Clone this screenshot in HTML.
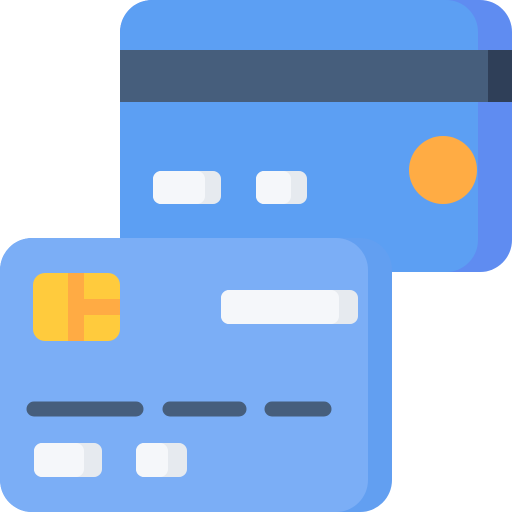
<!DOCTYPE html>
<html><head><style>html,body{margin:0;padding:0;background:#fff}</style></head>
<body>
<svg width="512" height="512" viewBox="0 0 512 512" xmlns="http://www.w3.org/2000/svg">
<defs>
<clipPath id="bc"><rect x="120" y="0" width="392" height="272" rx="32"/></clipPath>
<clipPath id="fc"><rect x="0" y="238" width="392" height="274" rx="32"/></clipPath>
</defs>
<g clip-path="url(#bc)">
<rect x="120" y="0" width="392" height="272" fill="#5F8CF1"/>
<rect x="120" y="0" width="358" height="272" rx="32" fill="#5C9FF3"/>
<rect x="120" y="50" width="392" height="52" fill="#2F3F58"/>
<rect x="120" y="50" width="368" height="52" fill="#465E7C"/>
</g>
<circle cx="443" cy="170" r="34" fill="#FFAC44"/>
<rect x="153" y="171" width="68" height="33" rx="8" fill="#E6EAEF"/>
<rect x="153" y="171" width="52" height="33" rx="8" fill="#F5F7FA"/>
<rect x="256" y="171" width="51" height="33" rx="8" fill="#E6EAEF"/>
<rect x="256" y="171" width="35" height="33" rx="8" fill="#F5F7FA"/>
<g clip-path="url(#fc)">
<rect x="0" y="238" width="392" height="274" fill="#629FF1"/>
<rect x="0" y="238" width="368" height="274" rx="32" fill="#7BAEF6"/>
</g>
<rect x="33" y="273" width="87" height="68" rx="12" fill="#FFCB3D"/>
<rect x="68" y="273" width="16" height="68" fill="#FFAB44"/>
<rect x="84" y="299" width="36" height="16" fill="#FFAB44"/>
<rect x="221" y="290" width="137" height="34" rx="8" fill="#E6EAEF"/>
<rect x="221" y="290" width="118" height="34" rx="8" fill="#F5F7FA"/>
<g stroke="#465E7C" stroke-width="15" stroke-linecap="round">
<line x1="34" y1="409" x2="136" y2="409"/>
<line x1="170" y1="409" x2="239" y2="409"/>
<line x1="272" y1="409" x2="324" y2="409"/>
</g>
<rect x="34" y="443" width="68" height="34" rx="8" fill="#E6EAEF"/>
<rect x="34" y="443" width="50" height="34" rx="8" fill="#F5F7FA"/>
<rect x="136" y="443" width="51" height="34" rx="8" fill="#E6EAEF"/>
<rect x="136" y="443" width="32" height="34" rx="8" fill="#F5F7FA"/>
</svg>
</body></html>
